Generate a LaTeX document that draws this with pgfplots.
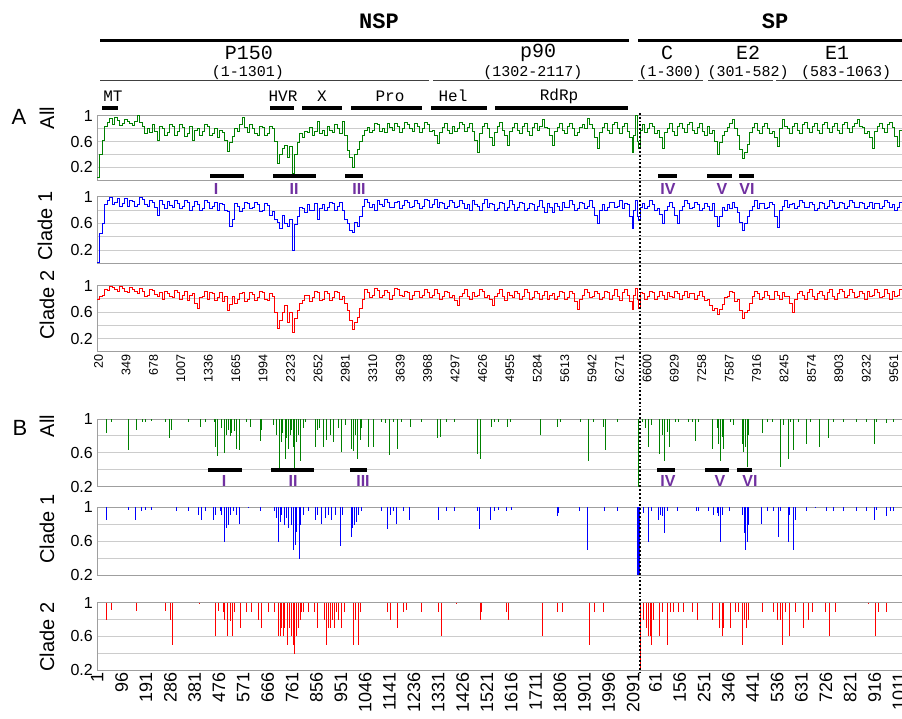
\documentclass[border=0pt]{standalone}
\usepackage{fontspec}
\setmainfont{Liberation Sans}
\newfontfamily\monof{Liberation Mono}
\usepackage{pgfplots}
\pgfplotsset{compat=1.18}
\usepackage{pgfplotstable}
\definecolor{dgreen}{RGB}{0,128,0}
\definecolor{purp}{RGB}{112,48,160}

\pgfplotstableread{
pos all cone ctwo
0 0.05 0.02 0.80
30 0.40 0.45 0.84
60 0.62 0.60 0.86
90 0.84 0.88 0.95
120 0.90 0.95 0.93
150 0.96 0.99 0.99
180 0.86 0.88 0.97
210 0.97 0.92 0.94
240 0.93 0.97 0.92
270 0.85 0.86 0.99
300 0.88 0.90 0.96
330 0.95 0.98 0.92
360 0.91 0.86 0.90
390 0.88 0.95 0.98
420 0.85 0.93 0.95
450 0.92 0.85 0.91
480 1.00 0.89 0.88
510 0.90 0.99 0.96
540 0.84 0.96 0.92
570 0.72 0.88 0.84
600 0.80 0.85 0.86
630 0.74 0.95 0.95
660 0.86 0.91 0.93
690 0.76 0.84 0.87
720 0.62 0.72 0.84
750 0.84 0.94 0.90
780 0.80 0.88 0.80
810 0.70 0.82 0.92
840 0.75 0.93 0.89
870 0.86 0.87 0.84
900 0.84 0.84 0.82
930 0.70 0.95 0.93
960 0.76 0.90 0.90
990 0.86 0.82 0.79
1020 0.82 0.86 0.85
1050 0.68 0.94 0.92
1080 0.72 0.92 0.78
1110 0.84 0.80 0.86
1140 0.62 0.85 0.88
1170 0.78 0.93 0.74
1200 0.80 0.89 0.65
1230 0.70 0.80 0.82
1260 0.76 0.83 0.84
1290 0.86 0.94 0.92
1320 0.84 0.91 0.80
1350 0.70 0.82 0.90
1380 0.72 0.85 0.88
1410 0.80 0.91 0.78
1440 0.66 0.80 0.82
1470 0.78 0.90 0.90
1500 0.74 0.88 0.76
1530 0.62 0.80 0.84
1560 0.45 0.78 0.62
1590 0.58 0.56 0.72
1620 0.68 0.66 0.84
1650 0.80 0.90 0.74
1680 0.76 0.86 0.79
1710 0.86 0.78 0.88
1740 0.98 0.82 0.90
1770 0.82 0.92 0.76
1800 0.74 0.90 0.80
1830 0.86 0.82 0.90
1860 0.80 0.84 0.87
1890 0.72 0.92 0.78
1920 0.70 0.88 0.82
1950 0.84 0.78 0.92
1980 0.82 0.80 0.90
2010 0.70 0.90 0.80
2040 0.72 0.87 0.78
2070 0.84 0.72 0.88
2100 0.80 0.78 0.84
2130 0.60 0.66 0.60
2160 0.26 0.62 0.36
2190 0.40 0.52 0.48
2220 0.50 0.72 0.60
2250 0.54 0.60 0.70
2280 0.36 0.56 0.45
2310 0.52 0.66 0.60
2340 0.10 0.19 0.30
2370 0.40 0.58 0.50
2400 0.58 0.70 0.62
2430 0.72 0.84 0.74
2460 0.66 0.82 0.78
2490 0.76 0.76 0.86
2520 0.74 0.88 0.86
2550 0.82 0.80 0.76
2580 0.70 0.80 0.82
2610 0.76 0.90 0.92
2640 0.92 0.66 0.90
2670 0.72 0.82 0.78
2700 0.78 0.88 0.80
2730 0.70 0.80 0.92
2760 0.84 0.84 0.88
2790 0.78 0.92 0.78
2820 0.74 0.90 0.82
2850 0.86 0.80 0.92
2880 0.80 0.86 0.90
2910 0.72 0.92 0.80
2940 0.92 0.80 0.84
2970 0.70 0.66 0.74
3000 0.46 0.60 0.62
3030 0.36 0.50 0.48
3060 0.20 0.46 0.34
3090 0.40 0.62 0.44
3120 0.48 0.56 0.52
3150 0.60 0.70 0.66
3180 0.70 0.85 0.80
3210 0.78 0.96 0.94
3240 0.82 0.92 0.90
3270 0.74 0.84 0.82
3300 0.78 0.88 0.86
3330 0.88 0.80 0.96
3360 0.86 0.95 0.93
3390 0.76 0.88 0.82
3420 0.80 0.86 0.85
3450 0.74 0.96 0.93
3480 0.88 0.92 0.90
3510 0.82 0.84 0.80
3540 0.78 0.84 0.86
3570 0.88 0.92 0.96
3600 0.84 0.93 0.94
3630 0.74 0.82 0.86
3660 0.80 0.87 0.84
3690 0.90 0.95 0.92
3720 0.86 0.92 0.90
3750 0.80 0.84 0.80
3780 0.76 0.85 0.86
3810 0.88 0.94 0.92
3840 0.84 0.90 0.92
3870 0.74 0.82 0.82
3900 0.80 0.86 0.85
3930 0.90 0.96 0.94
3960 0.86 0.94 0.90
3990 0.76 0.84 0.82
4020 0.78 0.88 0.86
4050 0.70 0.96 0.94
4080 0.57 0.84 0.88
4110 0.74 0.92 0.80
4140 0.82 0.90 0.84
4170 0.88 0.82 0.92
4200 0.78 0.86 0.90
4230 0.72 0.94 0.82
4260 0.84 0.92 0.86
4290 0.76 0.84 0.78
4320 0.80 0.85 0.70
4350 0.90 0.94 0.84
4380 0.86 0.90 0.88
4410 0.76 0.82 0.94
4440 0.82 0.88 0.84
4470 0.88 0.80 0.80
4500 0.76 0.94 0.90
4530 0.62 0.88 0.84
4560 0.44 0.86 0.86
4590 0.72 0.80 0.94
4620 0.84 0.90 0.92
4650 0.88 0.96 0.82
4680 0.80 0.84 0.86
4710 0.66 0.90 0.80
4740 0.54 0.88 0.70
4770 0.74 0.80 0.84
4800 0.84 0.82 0.88
4830 0.90 0.92 0.94
4860 0.78 0.90 0.84
4890 0.70 0.80 0.78
4920 0.54 0.84 0.90
4950 0.76 0.94 0.86
4980 0.82 0.88 0.82
5010 0.88 0.80 0.92
5040 0.78 0.84 0.88
5070 0.72 0.92 0.80
5100 0.84 0.90 0.84
5130 0.88 0.80 0.94
5160 0.76 0.82 0.90
5190 0.70 0.90 0.80
5220 0.82 0.88 0.82
5250 0.88 0.80 0.92
5280 0.78 0.86 0.88
5310 0.84 0.94 0.80
5340 0.94 0.84 0.86
5370 0.82 0.76 0.92
5400 0.80 0.90 0.80
5430 0.70 0.84 0.86
5460 0.54 0.76 0.88
5490 0.76 0.90 0.80
5520 0.82 0.86 0.84
5550 0.88 0.80 0.92
5580 0.78 0.92 0.90
5610 0.72 0.84 0.80
5640 0.84 0.84 0.82
5670 0.88 0.94 0.92
5700 0.80 0.88 0.88
5730 0.70 0.80 0.76
5760 0.74 0.82 0.64
5790 0.82 0.92 0.80
5820 0.86 0.90 0.86
5850 0.80 0.82 0.94
5880 0.96 0.86 0.90
5910 0.86 0.94 0.82
5940 0.80 0.84 0.84
5970 0.66 0.72 0.92
6000 0.50 0.60 0.88
6030 0.74 0.80 0.80
6060 0.82 0.88 0.82
6090 0.88 0.80 0.92
6120 0.78 0.84 0.90
6150 0.72 0.92 0.80
6180 0.86 0.92 0.86
6210 0.90 0.84 0.94
6240 0.80 0.86 0.84
6270 0.72 0.94 0.78
6300 0.84 0.82 0.90
6330 0.88 0.90 0.94
6360 0.76 0.88 0.86
6390 0.66 0.70 0.76
6420 0.44 0.52 0.64
6440 0.70 0.80 0.86
6460 1.00 0.95 0.96
6480 0.60 0.70 0.80
6500 0.50 0.64 0.66
6520 0.78 0.84 0.90
6540 0.86 0.90 0.88
6570 0.74 0.82 0.80
6600 0.80 0.86 0.84
6630 0.88 0.94 0.92
6660 0.84 0.88 0.90
6690 0.72 0.80 0.80
6720 0.78 0.82 0.84
6750 0.66 0.74 0.92
6780 0.50 0.60 0.86
6810 0.74 0.80 0.80
6840 0.80 0.86 0.90
6870 0.88 0.92 0.84
6900 0.76 0.84 0.82
6930 0.70 0.72 0.92
6960 0.84 0.60 0.88
6990 0.88 0.80 0.80
7020 0.80 0.86 0.86
7050 0.74 0.94 0.92
7080 0.86 0.90 0.82
7110 0.90 0.82 0.88
7140 0.78 0.84 0.88
7170 0.72 0.92 0.80
7200 0.82 0.88 0.86
7230 0.88 0.80 0.92
7260 0.76 0.82 0.84
7290 0.70 0.90 0.78
7320 0.84 0.86 0.80
7350 0.72 0.80 0.70
7380 0.78 0.90 0.62
7410 0.60 0.70 0.66
7440 0.40 0.56 0.56
7470 0.58 0.70 0.64
7500 0.70 0.84 0.72
7530 0.76 0.80 0.82
7560 0.82 0.88 0.84
7590 0.88 0.82 0.92
7620 0.94 0.92 0.90
7650 0.80 0.84 0.76
7680 0.70 0.76 0.80
7710 0.48 0.62 0.62
7740 0.34 0.50 0.50
7770 0.44 0.60 0.60
7800 0.56 0.70 0.62
7830 0.74 0.80 0.74
7860 0.82 0.86 0.84
7890 0.88 0.94 0.92
7920 0.78 0.82 0.88
7950 0.72 0.90 0.80
7980 0.84 0.90 0.82
8010 0.88 0.82 0.92
8040 0.80 0.84 0.86
8070 0.72 0.92 0.80
8100 0.76 0.88 0.80
8130 0.66 0.70 0.92
8160 0.52 0.54 0.86
8190 0.80 0.80 0.80
8220 0.94 0.86 0.90
8250 0.84 0.94 0.84
8280 0.80 0.84 0.84
8310 0.72 0.88 0.74
8340 0.84 0.90 0.60
8370 0.88 0.82 0.80
8400 0.78 0.86 0.88
8430 0.72 0.94 0.92
8460 0.86 0.92 0.86
8490 0.90 0.84 0.80
8520 0.80 0.84 0.90
8550 0.74 0.92 0.94
8580 0.84 0.88 0.84
8610 0.88 0.80 0.80
8640 0.78 0.82 0.88
8670 0.72 0.92 0.92
8700 0.86 0.90 0.86
8730 0.90 0.82 0.80
8760 0.80 0.86 0.90
8790 0.74 0.94 0.94
8820 0.84 0.92 0.84
8850 0.88 0.82 0.80
8880 0.78 0.84 0.88
8910 0.72 0.92 0.94
8940 0.86 0.90 0.92
8970 0.90 0.82 0.82
9000 0.80 0.86 0.86
9030 0.74 0.94 0.94
9060 0.84 0.92 0.90
9090 0.88 0.84 0.82
9120 0.94 0.84 0.84
9150 0.84 0.92 0.92
9180 0.82 0.90 0.88
9210 0.72 0.82 0.80
9240 0.76 0.86 0.92
9270 0.66 0.92 0.84
9300 0.50 0.82 0.86
9330 0.76 0.90 0.94
9360 0.84 0.90 0.90
9390 0.88 0.82 0.82
9420 0.80 0.86 0.84
9450 0.74 0.94 0.94
9480 0.86 0.92 0.88
9510 0.90 0.84 0.80
9540 0.82 0.88 0.92
9570 0.68 0.80 0.84
9600 0.52 0.84 0.86
9630 0.78 0.92 0.94
9660 0.90 0.92 0.90
}\Adata

\pgfplotstableread[row sep=\\]{x val\\
35 0.83\\ 55 0.97\\ 124 0.63\\ 152 0.87\\ 177 0.97\\ 187 0.97\\ 213 0.98\\ 265 0.96\\ 281 0.77\\ 291 0.87\\ 356 0.97\\ 402 0.90\\ 421 0.97\\ 458 0.97\\ 463 0.67\\ 471 0.56\\ 484 0.89\\ 497 0.60\\ 506 0.81\\ 512 0.87\\ 519 0.80\\ 525 0.83\\ 536 0.86\\ 545 0.65\\ 554 0.63\\ 584 0.97\\ 597 0.91\\ 636 0.74\\ 642 0.87\\ 688 0.93\\ 701 0.81\\ 711 0.42\\ 718 0.73\\ 724 0.83\\ 733 0.53\\ 740 0.77\\ 746 0.65\\ 753 0.81\\ 759 0.87\\ 766 0.67\\ 770 0.42\\ 776 0.73\\ 785 0.81\\ 792 0.50\\ 805 0.89\\ 814 0.97\\ 850 0.67\\ 861 0.87\\ 866 0.89\\ 883 0.67\\ 896 0.75\\ 909 0.81\\ 922 0.73\\ 941 0.89\\ 954 0.61\\ 967 0.93\\ 991 0.65\\ 1000 0.62\\ 1006 0.81\\ 1015 0.53\\ 1026 0.75\\ 1032 0.89\\ 1058 0.67\\ 1078 0.67\\ 1110 0.97\\ 1123 0.95\\ 1139 0.57\\ 1156 0.97\\ 1171 0.64\\ 1188 0.97\\ 1221 0.91\\ 1266 0.97\\ 1329 0.77\\ 1338 0.79\\ 1364 0.97\\ 1396 0.97\\ 1485 0.59\\ 1494 0.53\\ 1539 0.91\\ 1552 0.97\\
1567 0.97\\ 1599 0.90\\ 1612 0.97\\ 1729 0.81\\ 1794 0.91\\ 1807 0.97\\ 1885 0.97\\ 1918 0.50\\ 1937 0.97\\ 1976 0.91\\ 1983 0.63\\ 2028 0.97\\ 2110 0.20\\ 2112 0.20\\ 2126 0.97\\ 2139 0.89\\ 2152 0.67\\ 2161 0.93\\ 2193 0.59\\ 2204 0.81\\ 2214 0.50\\ 2223 0.85\\ 2233 0.67\\ 2256 0.97\\ 2269 0.97\\ 2308 0.97\\ 2321 0.97\\ 2336 0.74\\ 2347 0.97\\ 2402 0.65\\ 2418 0.89\\ 2425 0.71\\ 2431 0.50\\ 2438 0.79\\ 2444 0.65\\ 2470 0.97\\ 2483 0.93\\ 2516 0.71\\ 2522 0.61\\ 2529 0.67\\ 2538 0.43\\ 2542 0.81\\ 2594 0.83\\ 2613 0.97\\ 2633 0.97\\ 2665 0.43\\ 2678 0.93\\ 2695 0.53\\ 2704 0.97\\ 2717 0.63\\ 2737 0.97\\ 2769 0.71\\ 2782 0.97\\ 2818 0.67\\ 2851 0.77\\ 2873 0.97\\ 2912 0.97\\ 2964 0.97\\ 3003 0.97\\ 3033 0.71\\ 3042 0.97\\ 3081 0.95\\ 3107 0.97\\
}\Ball

\pgfplotstableread[row sep=\\]{x val\\
35 0.85\\ 122 0.96\\ 151 0.85\\ 174 0.95\\ 187 0.97\\ 213 0.96\\ 311 0.95\\ 356 0.95\\ 395 0.91\\ 406 0.85\\ 421 0.95\\ 454 0.85\\ 463 0.91\\ 480 0.95\\ 486 0.91\\ 495 0.59\\ 506 0.75\\ 512 0.79\\ 519 0.91\\ 532 0.95\\ 545 0.91\\ 554 0.80\\ 590 0.99\\ 638 0.95\\ 692 0.95\\ 701 0.87\\ 707 0.59\\ 714 0.83\\ 720 0.91\\ 731 0.79\\ 740 0.87\\ 746 0.75\\ 759 0.79\\ 766 0.50\\ 772 0.55\\ 779 0.71\\ 788 0.39\\ 794 0.79\\ 805 0.91\\ 824 0.95\\ 850 0.85\\ 861 0.91\\ 876 0.80\\ 889 0.87\\ 902 0.91\\ 915 0.85\\ 928 0.91\\ 950 0.54\\ 957 0.91\\ 991 0.65\\ 996 0.75\\ 1004 0.79\\ 1013 0.83\\ 1019 0.91\\ 1032 0.95\\ 1108 0.95\\ 1134 0.74\\ 1143 0.91\\ 1156 0.95\\ 1169 0.80\\ 1195 0.95\\ 1217 0.85\\ 1331 0.85\\ 1364 0.95\\ 1394 0.95\\ 1485 0.95\\ 1490 0.74\\ 1533 0.85\\ 1550 0.95\\
1567 0.96\\ 1596 0.95\\ 1615 0.96\\ 1794 0.90\\ 1801 0.93\\ 1882 0.95\\ 1914 0.50\\ 1979 0.95\\ 2028 0.95\\ 2106 0.20\\ 2109 0.20\\ 2111 0.20\\ 2113 0.20\\ 2115 0.20\\ 2132 0.93\\ 2152 0.59\\ 2161 0.95\\ 2188 0.85\\ 2197 0.91\\ 2206 0.90\\ 2214 0.69\\ 2223 0.95\\ 2262 0.95\\ 2337 0.95\\ 2347 0.95\\ 2386 0.95\\ 2405 0.91\\ 2418 0.93\\ 2425 0.89\\ 2431 0.59\\ 2438 0.91\\ 2466 0.95\\ 2519 0.91\\ 2525 0.69\\ 2529 0.50\\ 2535 0.59\\ 2542 0.79\\ 2591 0.80\\ 2613 0.95\\ 2639 0.95\\ 2659 0.65\\ 2665 0.95\\ 2695 0.59\\ 2701 0.91\\ 2717 0.50\\ 2724 0.85\\ 2769 0.95\\ 2802 0.99\\ 2847 0.95\\ 2873 0.95\\ 2912 0.95\\ 2964 0.95\\ 3003 0.95\\ 3033 0.85\\ 3042 0.97\\ 3078 0.90\\ 3094 0.95\\ 3107 0.95\\
}\Bone

\pgfplotstableread[row sep=\\]{x val\\
38 0.80\\ 57 0.91\\ 155 0.90\\ 268 0.90\\ 285 0.80\\ 294 0.50\\ 399 0.99\\ 464 0.60\\ 473 0.90\\ 493 0.89\\ 499 0.80\\ 510 0.60\\ 519 0.78\\ 528 0.60\\ 538 0.89\\ 560 0.70\\ 584 0.89\\ 603 0.89\\ 629 0.80\\ 642 0.70\\ 668 0.89\\ 694 0.89\\ 707 0.60\\ 714 0.60\\ 720 0.70\\ 727 0.60\\ 733 0.70\\ 742 0.50\\ 750 0.70\\ 759 0.60\\ 766 0.50\\ 772 0.39\\ 779 0.60\\ 785 0.70\\ 792 0.80\\ 798 0.89\\ 805 0.89\\ 824 0.89\\ 850 0.89\\ 859 0.70\\ 887 0.80\\ 896 0.50\\ 902 0.70\\ 909 0.70\\ 918 0.80\\ 926 0.70\\ 935 0.89\\ 941 0.80\\ 954 0.70\\ 965 0.89\\ 1000 0.50\\ 1009 0.80\\ 1019 0.50\\ 1028 0.89\\ 1134 0.89\\ 1143 0.80\\ 1173 0.70\\ 1195 0.89\\ 1208 0.91\\ 1266 0.89\\ 1331 0.89\\ 1344 0.60\\ 1403 0.99\\ 1494 0.80\\ 1500 0.89\\
1599 0.89\\ 1606 0.80\\ 1736 0.60\\ 1797 0.89\\ 1814 0.89\\ 1921 0.50\\ 1940 0.89\\ 1976 0.89\\ 2119 0.20\\ 2132 0.80\\ 2142 0.70\\ 2152 0.60\\ 2158 0.60\\ 2162 0.50\\ 2171 0.80\\ 2193 0.60\\ 2204 0.89\\ 2226 0.50\\ 2236 0.89\\ 2249 0.89\\ 2269 0.89\\ 2288 0.89\\ 2321 0.89\\ 2344 0.80\\ 2402 0.80\\ 2428 0.70\\ 2438 0.60\\ 2444 0.70\\ 2470 0.70\\ 2490 0.89\\ 2503 0.89\\ 2519 0.50\\ 2525 0.80\\ 2532 0.70\\ 2542 0.80\\ 2597 0.89\\ 2639 0.89\\ 2656 0.80\\ 2665 0.80\\ 2674 0.50\\ 2685 0.89\\ 2701 0.60\\ 2724 0.89\\ 2756 0.70\\ 2776 0.80\\ 2789 0.89\\ 2841 0.89\\ 2856 0.60\\ 2880 0.89\\ 3010 0.99\\ 3038 0.60\\ 3049 0.89\\ 3081 0.89\\
}\Btwo

\pgfplotsset{
  base/.style={scale only axis, width=805pt,
    axis x line*=box, axis y line*=left,
    axis line style={-, draw=gray!75, line width=1pt},
    major tick length=0pt, minor tick length=0pt,
    ymajorgrids, yminorgrids,
    major grid style={draw=gray!40, line width=0.9pt},
    minor grid style={draw=gray!40, line width=0.9pt},
    ytick={0.2,0.6,1}, yticklabels={0.2,0.6,1}, minor ytick={0.4,0.8},
    yticklabel style={font=\fontsize{16}{16}\selectfont, inner sep=0pt, anchor=east, xshift=-4pt},
    xtick=\empty},
  panelA/.style={base, xmin=0, xmax=9660, ymin=0, ymax=1},
  panelB/.style={base, xmin=0, xmax=3140, ymin=0.2, ymax=1},
  bars/.style={quiver={u=0, v=\thisrow{val}-1}},
}

\begin{document}
\begin{tikzpicture}
\path[use as bounding box] (0,0) rectangle (902pt,-718pt);

% ---------- Panel A ----------
\begin{axis}[panelA, height=64.6pt, at={(97pt,-115.7pt)}, anchor=north west]
\addplot[const plot, draw=dgreen, line width=0.7pt] table[x=pos, y=all]{\Adata};
\end{axis}
\begin{axis}[panelA, height=66.6pt, at={(97pt,-196.7pt)}, anchor=north west]
\addplot[const plot, draw=blue, line width=0.7pt] table[x=pos, y=cone]{\Adata};
\end{axis}
\begin{axis}[panelA, height=66pt, at={(97pt,-285.7pt)}, anchor=north west,
  xtick={20,349,...,9561},
  xticklabel={\pgfmathprintnumber[assume math mode=true,1000 sep={},fixed,precision=0]{\tick}},
  xticklabel style={yshift=-3pt, rotate=90, anchor=east, inner sep=0pt, font=\fontsize{12.5}{12.5}\selectfont}]
\addplot[const plot, draw=red, line width=0.7pt] table[x=pos, y=ctwo]{\Adata};
\end{axis}

% ---------- Panel B ----------
\begin{axis}[panelB, height=67.7pt, at={(97pt,-419pt)}, anchor=north west]
\addplot[bars, draw=dgreen, line width=0.8pt] table[x=x, y expr=1]{\Ball};
\end{axis}
\begin{axis}[panelB, height=68.3pt, at={(97pt,-507pt)}, anchor=north west]
\addplot[bars, draw=blue, line width=0.8pt] table[x=x, y expr=1]{\Bone};
\end{axis}
\begin{axis}[panelB, height=67.3pt, at={(97pt,-602.7pt)}, anchor=north west,
  xtick={1,96,191,286,381,476,571,666,761,856,951,1046,1141,1236,1331,1426,1521,1616,1711,1806,1901,1996,2091,2178,2273,2368,2463,2558,2653,2748,2843,2938,3033,3128},
  xticklabels={1,96,191,286,381,476,571,666,761,856,951,1046,1141,1236,1331,1426,1521,1616,1711,1806,1901,1996,2091,61,156,251,346,441,536,631,726,821,916,1011},
  xticklabel style={yshift=-2pt, rotate=90, anchor=east, inner sep=0pt, font=\fontsize{18}{18}\selectfont}]
\addplot[bars, draw=red, line width=1pt] table[x=x, y expr=1]{\Btwo};
\end{axis}

% ---------- Annotations ----------
\node[font=\monof\bfseries\fontsize{22}{22}\selectfont] at (379pt,-21pt) {NSP};
\node[font=\monof\bfseries\fontsize{22}{22}\selectfont] at (775pt,-21pt) {SP};
\draw[line width=3pt] (100pt,-40.7pt) -- (629pt,-40.7pt);
\draw[line width=3pt] (638pt,-40.7pt) -- (902pt,-40.7pt);

\begin{scope}[font=\monof\fontsize{20}{20}\selectfont]
\node at (249pt,-53pt) {P150};
\node at (538pt,-53pt) {p90};
\node at (667pt,-53pt) {C};
\node at (748pt,-53pt) {E2};
\node at (837pt,-53pt) {E1};
\end{scope}
\begin{scope}[font=\monof\fontsize{15}{15}\selectfont]
\node at (248pt,-73pt) {(1-1301)};
\node at (533pt,-73pt) {(1302-2117)};
\node at (670pt,-73pt) {(1-300)};
\node at (748pt,-73pt) {(301-582)};
\node at (846pt,-73pt) {(583-1063)};
\end{scope}
\begin{scope}[draw=black!75, line width=1pt]
\draw (100pt,-80.7pt) -- (429pt,-80.7pt);
\draw (433pt,-80.7pt) -- (633pt,-80.7pt);
\draw (638pt,-80.7pt) -- (703pt,-80.7pt);
\draw (708pt,-80.7pt) -- (773pt,-80.7pt);
\draw (776pt,-80.7pt) -- (902pt,-80.7pt);
\end{scope}
\begin{scope}[font=\monof\fontsize{16}{16}\selectfont]
\node at (113pt,-96pt) {MT};
\node at (283pt,-96pt) {HVR};
\node at (322pt,-96pt) {X};
\node at (390pt,-96pt) {Pro};
\node at (453pt,-96pt) {Hel};
\node at (559pt,-96pt) {RdRp};
\end{scope}
\begin{scope}[line width=4pt]
\draw (102pt,-107.7pt) -- (118pt,-107.7pt);
\draw (270pt,-107.7pt) -- (294pt,-107.7pt);
\draw (302pt,-107.7pt) -- (342pt,-107.7pt);
\draw (351pt,-107.7pt) -- (422pt,-107.7pt);
\draw (431pt,-107.7pt) -- (487pt,-107.7pt);
\draw (495pt,-107.7pt) -- (628pt,-107.7pt);
\end{scope}

% region bars
\begin{scope}[line width=3.5pt]
\draw (210pt,-176pt) -- (244pt,-176pt);
\draw (273pt,-176pt) -- (316pt,-176pt);
\draw (345pt,-176pt) -- (363pt,-176pt);
\draw (658pt,-176pt) -- (677pt,-176pt);
\draw (707pt,-176pt) -- (732pt,-176pt);
\draw (739pt,-176pt) -- (754pt,-176pt);
\draw (208pt,-470pt) -- (242pt,-470pt);
\draw (271pt,-470pt) -- (314pt,-470pt);
\draw (350pt,-470pt) -- (367pt,-470pt);
\draw (657pt,-470pt) -- (675pt,-470pt);
\draw (705pt,-470pt) -- (729pt,-470pt);
\draw (737pt,-470pt) -- (752pt,-470pt);
\end{scope}
\begin{scope}[font=\bfseries\fontsize{16}{16}\selectfont, text=purp]
\node at (216pt,-189pt) {I};
\node at (294pt,-189pt) {II};
\node at (359pt,-189pt) {III};
\node at (668pt,-189pt) {IV};
\node at (722pt,-189pt) {V};
\node at (747pt,-189pt) {VI};
\node at (224pt,-481pt) {I};
\node at (293pt,-481pt) {II};
\node at (363pt,-481pt) {III};
\node at (668pt,-481pt) {IV};
\node at (720pt,-481pt) {V};
\node at (750pt,-481pt) {VI};
\end{scope}

% row labels
\node[font=\fontsize{22}{22}\selectfont] at (19pt,-117pt) {A};
\node[font=\fontsize{22}{22}\selectfont] at (20pt,-428pt) {B};
\begin{scope}[font=\fontsize{20}{20}\selectfont]
\node[rotate=90] at (47pt,-118pt) {All};
\node[rotate=90] at (45pt,-226pt) {Clade 1};
\node[rotate=90] at (47pt,-305pt) {Clade 2};
\node[rotate=90] at (47pt,-426pt) {All};
\node[rotate=90] at (47pt,-529pt) {Clade 1};
\node[rotate=90] at (47pt,-637pt) {Clade 2};
\end{scope}

% separator
\draw[line width=1.8pt, dash pattern=on 1.8pt off 2pt] (640pt,-113pt) -- (640pt,-672pt);
\end{tikzpicture}
\end{document}
